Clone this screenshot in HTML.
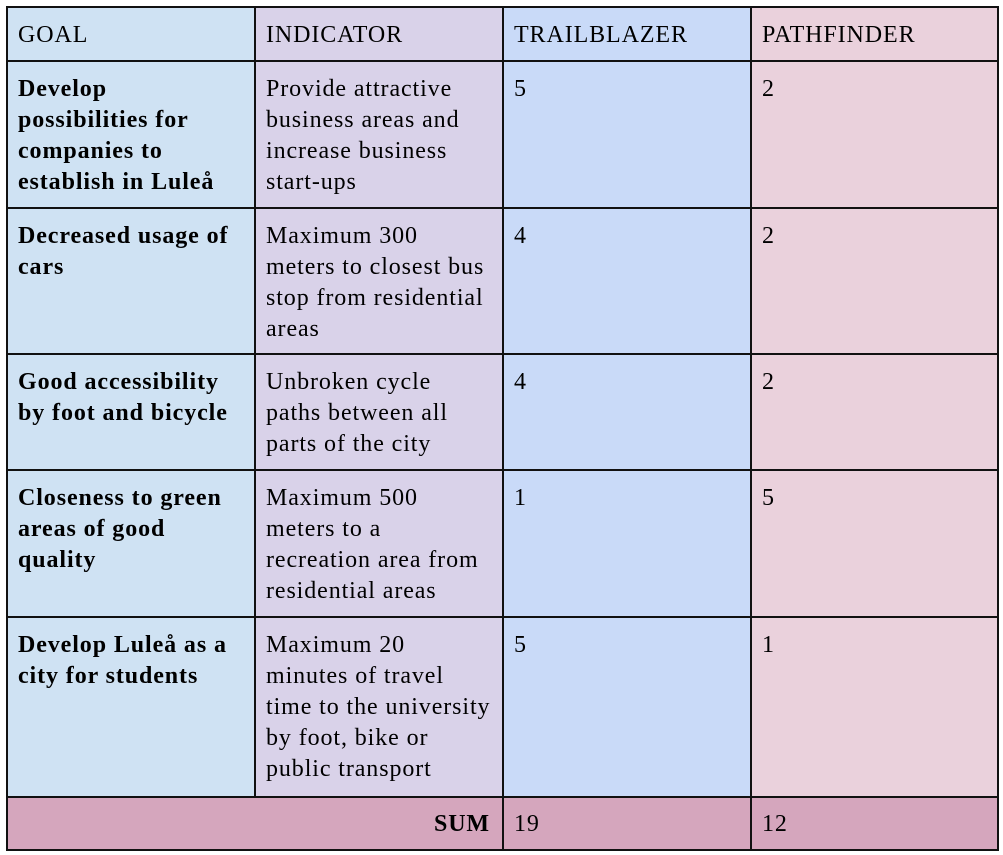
<!DOCTYPE html>
<html><head><meta charset="utf-8"><style>
body{margin:0;background:#fff;width:1003px;height:855px;position:relative;overflow:hidden;font-family:"Liberation Serif","Times New Roman",Times,serif;font-size:24px;color:#000;letter-spacing:0.9px}
.c{position:absolute;box-sizing:border-box;border:2px solid #111;padding:12px 0 0 10px;line-height:31px;white-space:nowrap}
.b{font-weight:bold}
.g{background:#cfe2f3}.i{background:#d9d2e9}.t{background:#c9daf8}.p{background:#ead1dc}.s{background:#d5a6bd}
</style></head><body>
<div class="c g" style="left:6px;top:6px;width:250px;height:56px;padding-top:12px">GOAL</div>
<div class="c i" style="left:254px;top:6px;width:250px;height:56px;padding-top:12px">INDICATOR</div>
<div class="c t" style="left:502px;top:6px;width:250px;height:56px;padding-top:12px">TRAILBLAZER</div>
<div class="c p" style="left:750px;top:6px;width:249px;height:56px;padding-top:12px">PATHFINDER</div>

<div class="c g b" style="left:6px;top:60px;width:250px;height:149px">Develop<br>possibilities for<br>companies to<br>establish in Luleå</div>
<div class="c i" style="left:254px;top:60px;width:250px;height:149px">Provide attractive<br>business areas and<br>increase business<br>start-ups</div>
<div class="c t" style="left:502px;top:60px;width:250px;height:149px">5</div>
<div class="c p" style="left:750px;top:60px;width:249px;height:149px">2</div>

<div class="c g b" style="left:6px;top:207px;width:250px;height:148px">Decreased usage of<br>cars</div>
<div class="c i" style="left:254px;top:207px;width:250px;height:148px">Maximum 300<br>meters to closest bus<br>stop from residential<br>areas</div>
<div class="c t" style="left:502px;top:207px;width:250px;height:148px">4</div>
<div class="c p" style="left:750px;top:207px;width:249px;height:148px">2</div>

<div class="c g b" style="left:6px;top:353px;width:250px;height:118px">Good accessibility<br>by foot and bicycle</div>
<div class="c i" style="left:254px;top:353px;width:250px;height:118px">Unbroken cycle<br>paths between all<br>parts of the city</div>
<div class="c t" style="left:502px;top:353px;width:250px;height:118px">4</div>
<div class="c p" style="left:750px;top:353px;width:249px;height:118px">2</div>

<div class="c g b" style="left:6px;top:469px;width:250px;height:149px">Closeness to green<br>areas of good<br>quality</div>
<div class="c i" style="left:254px;top:469px;width:250px;height:149px">Maximum 500<br>meters to a<br>recreation area from<br>residential areas</div>
<div class="c t" style="left:502px;top:469px;width:250px;height:149px">1</div>
<div class="c p" style="left:750px;top:469px;width:249px;height:149px">5</div>

<div class="c g b" style="left:6px;top:616px;width:250px;height:182px">Develop Luleå as a<br>city for students</div>
<div class="c i" style="left:254px;top:616px;width:250px;height:182px">Maximum 20<br>minutes of travel<br>time to the university<br>by foot, bike or<br>public transport</div>
<div class="c t" style="left:502px;top:616px;width:250px;height:182px">5</div>
<div class="c p" style="left:750px;top:616px;width:249px;height:182px">1</div>

<div class="c s b" style="left:6px;top:796px;width:498px;height:55px;text-align:right;padding:11px 12px 0 0">SUM</div>
<div class="c s" style="left:502px;top:796px;width:250px;height:55px;padding-top:11px">19</div>
<div class="c s" style="left:750px;top:796px;width:249px;height:55px;padding-top:11px">12</div>
</body></html>
